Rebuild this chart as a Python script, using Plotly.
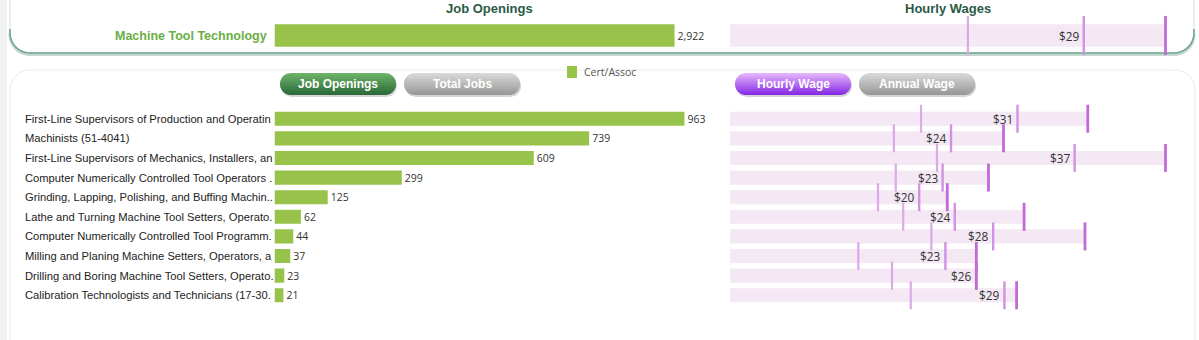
import math
import plotly.graph_objects as go

W, H = 1199, 340

# ---------------- data ----------------
program_name = "Machine Tool Technology"
program_openings = [2922]
program_wage_low = [19.5]
program_wage_med = [29.0]
program_wage_high = [35.7]

occupations = [
    "First-Line Supervisors of Production and Operatin",
    "Machinists (51-4041)",
    "First-Line Supervisors of Mechanics, Installers, an",
    "Computer Numerically Controlled Tool Operators .",
    "Grinding, Lapping, Polishing, and Buffing Machin..",
    "Lathe and Turning Machine Tool Setters, Operato.",
    "Computer Numerically Controlled Tool Programm.",
    "Milling and Planing Machine Setters, Operators, a",
    "Drilling and Boring Machine Tool Setters, Operato.",
    "Calibration Technologists and Technicians (17-30.",
]
openings = [963, 739, 609, 299, 125, 62, 44, 37, 23, 21]
wage_low = [20.4, 17.5, 22.1, 17.7, 15.8, 18.5, 21.5, 13.7, 17.3, 19.3]
wage_med = [30.7, 23.6, 36.8, 22.7, 20.2, 24.0, 28.1, 23.0, 26.3, 29.3]
wage_high = [38.2, 29.2, 46.5, 27.6, 23.2, 31.4, 37.9, 26.3, 26.3, 30.6]

legend_label = "Cert/Assoc"
title_jobs = "Job Openings"
title_wages = "Hourly Wages"
buttons = ["Job Openings", "Total Jobs", "Hourly Wage", "Annual Wage"]

# ---------------- style ----------------
GREEN = "#97c34a"
WAGE_BG = "#f3e8f3"
TICK_LOW = "#dcaae8"
TICK_MED = "#d292e2"
TICK_HIGH = "#c46ad8"
VAL_FONT = dict(family="Open Sans, Noto Sans, sans-serif", size=10.5, color="#333333")
WAGE_FONT = dict(family="Open Sans, Noto Sans, sans-serif", size=11.8, color="#333333")
LBL_FONT = dict(family="Liberation Sans, Arial, sans-serif", size=11.2, color="#222222")


def px(x):
    return x / W


def py(y):
    return 1 - y / H


def path_from(points, close=True):
    s = ""
    for i, (x, y) in enumerate(points):
        s += ("M" if i == 0 else "L") + f"{px(x):.6f},{py(y):.6f} "
    if close:
        s += "Z"
    return s


def arc(cx, cy, r, a0, a1, n=10):
    return [(cx + r * math.cos(math.radians(a0 + (a1 - a0) * k / n)),
             cy + r * math.sin(math.radians(a0 + (a1 - a0) * k / n))) for k in range(n + 1)]


def mix(c1, c2, t):
    a = [int(c1[i:i + 2], 16) for i in (1, 3, 5)]
    b = [int(c2[i:i + 2], 16) for i in (1, 3, 5)]
    return "#" + "".join(f"{int(round(a[i] + (b[i] - a[i]) * t)):02x}" for i in range(3))


shapes = []
# left grey strip
shapes.append(dict(type="rect", xref="paper", yref="paper", x0=0, x1=px(7), y0=0, y1=1,
                   fillcolor="#f2f2f2", line=dict(width=0), layer="below"))

# top card (rounded bottom corners) with shadow
R = 20
top_pts = [(10, -10), (10, 53 - R)] + arc(10 + R, 53 - R, R, 180, 90) + \
          arc(1194 - R, 53 - R, R, 90, 0) + [(1194, -10)]
shadow_pts = [(10, 53 - R)] + arc(10 + R, 53 - R + 1.5, R, 180, 90) + arc(1194 - R, 53 - R + 1.5, R, 90, 0)
shapes.append(dict(type="path", xref="paper", yref="paper", path=path_from(shadow_pts, close=False),
                   line=dict(color="#c3d9d0", width=3), layer="below"))
shapes.append(dict(type="path", xref="paper", yref="paper", path=path_from(top_pts),
                   fillcolor="white", line=dict(color="#d3e3dc", width=1), layer="below"))
bottom_pts = [(10, 53 - R - 4)] + arc(10 + R, 53 - R, R, 180, 90) + arc(1194 - R, 53 - R, R, 90, 0) + [(1194, 53 - R - 4)]
shapes.append(dict(type="path", xref="paper", yref="paper", path=path_from(bottom_pts, close=False),
                   line=dict(color="#6fa592", width=1.6), layer="below"))

# lower card
low_pts = [(10, 360), (10, 70 + R)] + arc(10 + R, 70 + R, R, 180, 270) + \
          arc(1195 - R, 70 + R, R, 270, 360) + [(1195, 360)]
shapes.append(dict(type="path", xref="paper", yref="paper", path=path_from(low_pts),
                   fillcolor="white", line=dict(color="#e8ecea", width=1), layer="below"))


def pill_band(x0, x1, y0, y1, ya, yb, n=6):
    r = (y1 - y0) / 2
    yc = (y0 + y1) / 2
    ys = [ya + (yb - ya) * k / n for k in range(n + 1)]
    left = [(x0 + r - math.sqrt(max(0.0, r * r - (y - yc) ** 2)), y) for y in ys]
    right = [(x1 - r + math.sqrt(max(0.0, r * r - (y - yc) ** 2)), y) for y in reversed(ys)]
    return path_from(left + right)


btn_boxes = [(280, 396), (404, 520), (735, 851), (859, 975)]
btn_colors = [("#6db56a", "#2a6838"), ("#dadada", "#969696"),
              ("#e6b8fc", "#8426e4"), ("#dadada", "#969696")]
BY0, BY1 = 73, 95
annotations = []
for (x0, x1), (ct, cb), label in zip(btn_boxes, btn_colors, buttons):
    shapes.append(dict(type="path", xref="paper", yref="paper",
                       path=pill_band(x0 + 1, x1 + 1, BY0 + 2, BY1 + 2, BY0 + 2, BY1 + 2, n=16),
                       fillcolor="#d4d4d4", line=dict(width=0), layer="below"))
    nb = 11
    for k in range(nb):
        ya = BY0 + (BY1 - BY0) * k / nb
        yb = BY0 + (BY1 - BY0) * (k + 1) / nb + (0.6 if k < nb - 1 else 0)
        shapes.append(dict(type="path", xref="paper", yref="paper",
                           path=pill_band(x0, x1, BY0, BY1, ya, yb),
                           fillcolor=mix(ct, cb, (k + 0.5) / nb), line=dict(width=0), layer="below"))
    annotations.append(dict(x=px((x0 + x1) / 2), y=py((BY0 + BY1) / 2), xref="paper", yref="paper",
                            text=f"<b>{label}</b>", showarrow=False, xanchor="center", yanchor="middle",
                            font=dict(family="Liberation Sans, Arial, sans-serif", size=12, color="white")))

# legend swatch + text
shapes.append(dict(type="rect", xref="paper", yref="paper", x0=px(567), x1=px(577), y0=py(78), y1=py(66),
                   fillcolor=GREEN, line=dict(width=0), layer="below"))
annotations.append(dict(x=px(582), y=py(72), xref="paper", yref="paper", text=legend_label,
                        showarrow=False, xanchor="left", yanchor="middle",
                        font=dict(family="Open Sans, sans-serif", size=10.5, color="#555555")))

# titles
for t, xc in [(title_jobs, 489), (title_wages, 948)]:
    annotations.append(dict(x=px(xc), y=py(8), xref="paper", yref="paper", text=f"<b>{t}</b>",
                            showarrow=False, xanchor="center", yanchor="middle",
                            font=dict(family="Liberation Sans, Arial, sans-serif", size=13, color="#2b5a45")))
annotations.append(dict(x=px(269), y=0, xref="paper", yref="y", text=f"<b>{program_name}</b>",
                        showarrow=False, xanchor="right", yanchor="middle",
                        font=dict(family="Liberation Sans, Arial, sans-serif", size=12.5, color="#6aae45")))

# occupation labels
for i, name in enumerate(occupations):
    annotations.append(dict(x=px(23), y=i, xref="paper", yref="y3", text=name, showarrow=False,
                            xanchor="left", yanchor="middle", font=LBL_FONT))

# median wage labels (left of the median tick)
for v in program_wage_med:
    annotations.append(dict(x=v, y=0, xref="x2", yref="y2", text=f"${v:.0f}", showarrow=False,
                            xanchor="right", yanchor="middle", xshift=-3, font=WAGE_FONT))
for i, v in enumerate(wage_med):
    annotations.append(dict(x=v, y=i, xref="x4", yref="y4", text=f"${v:.0f}", showarrow=False,
                            xanchor="right", yanchor="middle", xshift=-3, font=WAGE_FONT))

fig = go.Figure()

# ---- top program row ----
fig.add_trace(go.Bar(x=program_openings, y=[0], orientation="h", width=0.73, marker_color=GREEN,
                     marker_line_width=0, texttemplate="%{x:,}", textposition="outside",
                     textfont=VAL_FONT, cliponaxis=False, xaxis="x", yaxis="y", hoverinfo="skip"))
fig.add_trace(go.Bar(x=program_wage_high, y=[0], orientation="h", width=0.73, marker_color=WAGE_BG,
                     marker_line_width=0, xaxis="x2", yaxis="y2", hoverinfo="skip"))
for vals, col, w in [(program_wage_low, TICK_LOW, 2.2), (program_wage_med, TICK_MED, 2.4),
                     (program_wage_high, TICK_HIGH, 2.8)]:
    fig.add_trace(go.Scatter(x=vals, y=[0], mode="markers", xaxis="x2", yaxis="y2", cliponaxis=False,
                             marker=dict(symbol="line-ns", size=28, line=dict(width=w, color=col)),
                             hoverinfo="skip"))

# ---- occupation rows ----
rows = list(range(len(occupations)))
fig.add_trace(go.Bar(x=openings, y=rows, orientation="h", width=0.72, marker_color=GREEN,
                     marker_line_width=0, texttemplate="%{x:,}", textposition="outside",
                     textfont=VAL_FONT, cliponaxis=False, xaxis="x3", yaxis="y3", hoverinfo="skip"))
fig.add_trace(go.Bar(x=wage_high, y=rows, orientation="h", width=0.72, marker_color=WAGE_BG,
                     marker_line_width=0, xaxis="x4", yaxis="y4", hoverinfo="skip"))
for vals, col, w in [(wage_low, TICK_LOW, 2.2), (wage_med, TICK_MED, 2.4), (wage_high, TICK_HIGH, 2.8)]:
    fig.add_trace(go.Scatter(x=vals, y=rows, mode="markers", xaxis="x4", yaxis="y4", cliponaxis=False,
                             marker=dict(symbol="line-ns", size=20, line=dict(width=w, color=col)),
                             hoverinfo="skip"))

hidden = dict(visible=False, showgrid=False, zeroline=False, fixedrange=True)
JX = [px(274.5), px(724.5)]
WX = [px(730), px(1165.5)]
TOPY = [py(51), py(20)]
LOWY = [py(305.1), py(108.9)]

fig.update_layout(
    width=W, height=H, autosize=False,
    margin=dict(l=0, r=0, t=0, b=0, pad=0),
    paper_bgcolor="white", plot_bgcolor="rgba(0,0,0,0)",
    showlegend=False,
    xaxis=dict(domain=JX, range=[0, 3287], anchor="y", **hidden),
    yaxis=dict(domain=TOPY, range=[-0.5, 0.5], anchor="x", **hidden),
    xaxis2=dict(domain=WX, range=[0, program_wage_high[0]], anchor="y2", **hidden),
    yaxis2=dict(domain=TOPY, range=[-0.5, 0.5], anchor="x2", **hidden),
    xaxis3=dict(domain=JX, range=[0, 1057], anchor="y3", **hidden),
    yaxis3=dict(domain=LOWY, range=[len(occupations) - 0.5, -0.5], anchor="x3", **hidden),
    xaxis4=dict(domain=WX, range=[0, max(wage_high)], anchor="y4", **hidden),
    yaxis4=dict(domain=LOWY, range=[len(occupations) - 0.5, -0.5], anchor="x4", **hidden),
    shapes=shapes,
    annotations=annotations,
)

fig.write_html("out.html")
